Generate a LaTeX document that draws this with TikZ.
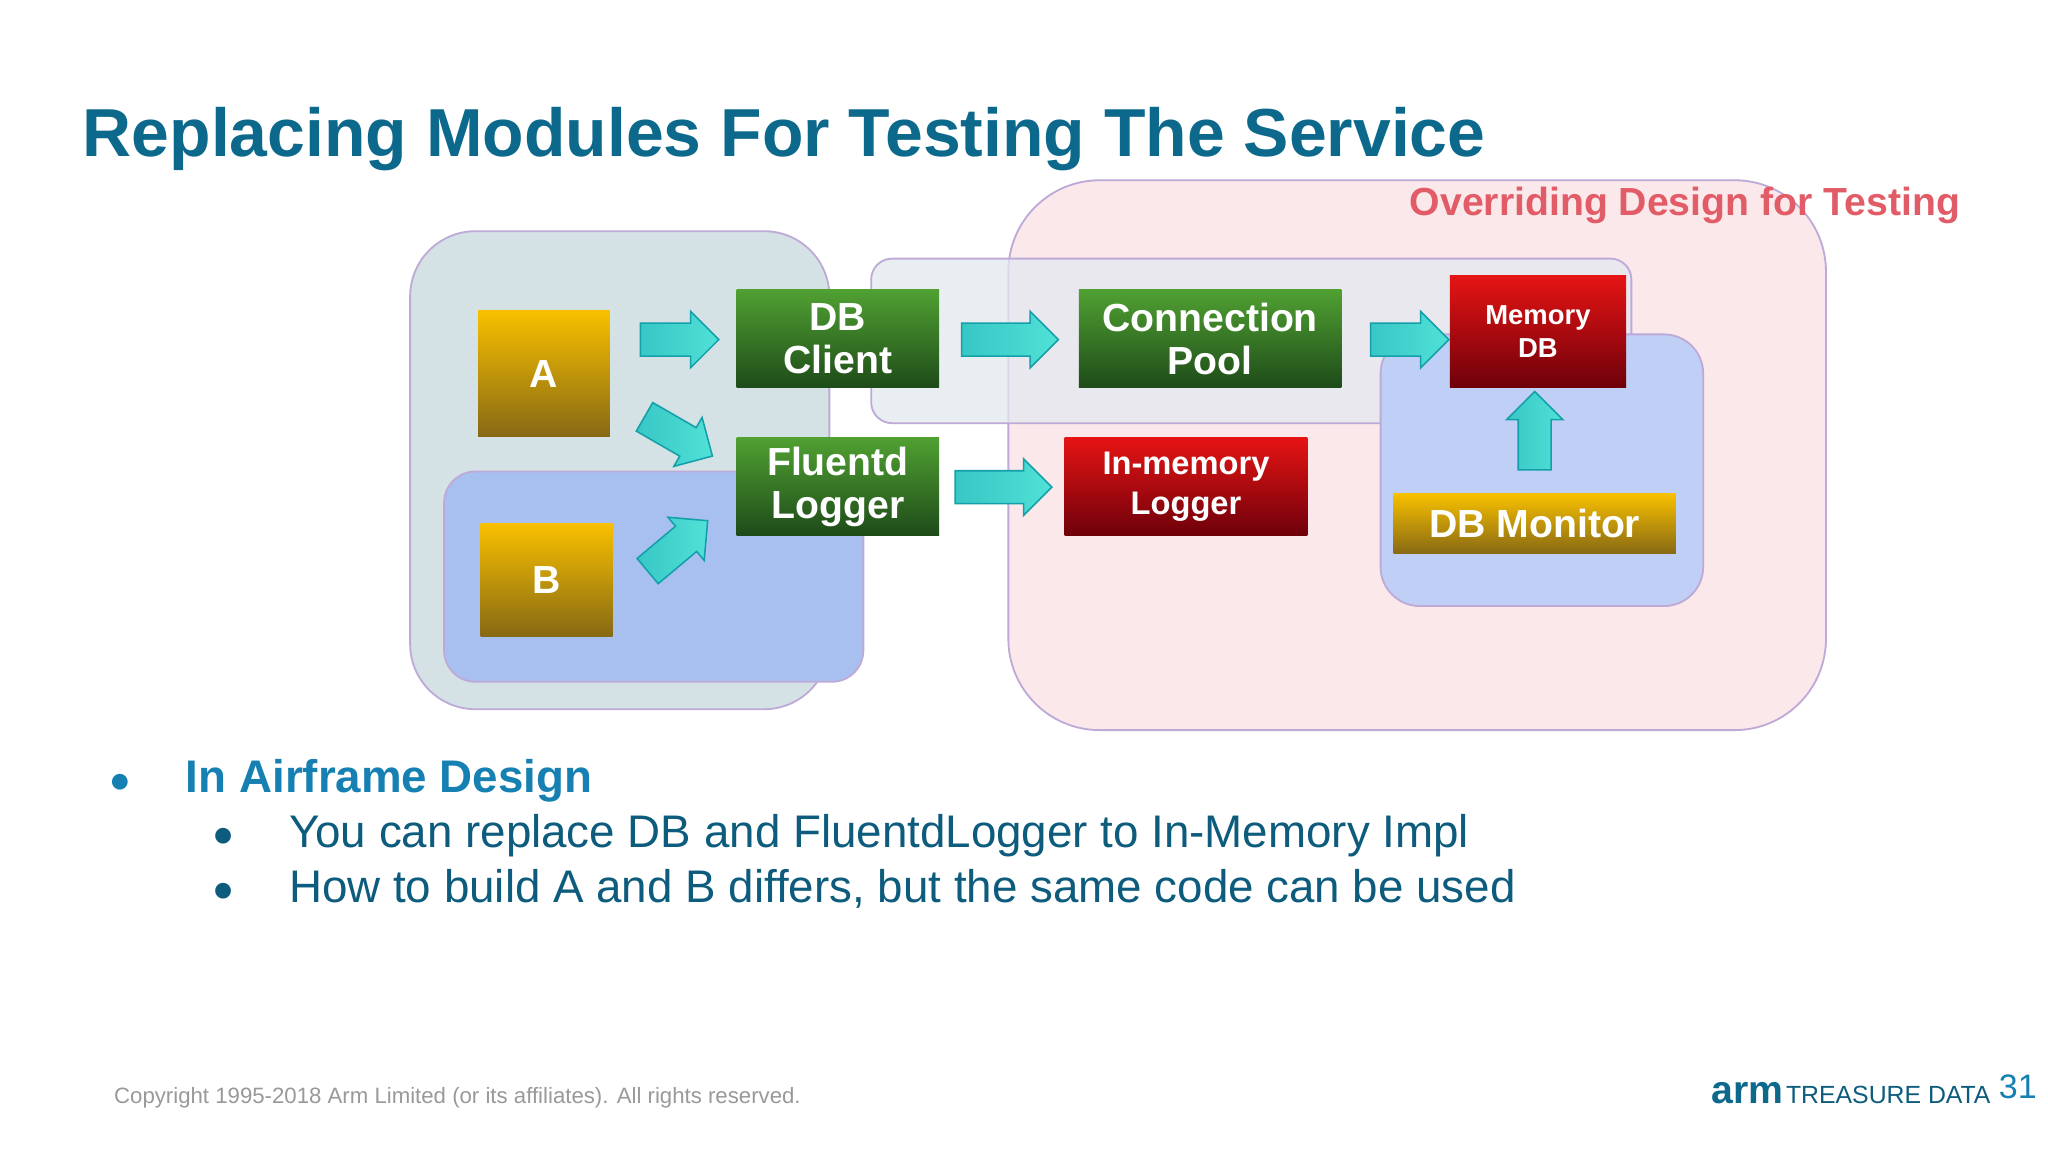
\documentclass[tikz,border=0pt]{standalone}
\usepackage{fontspec}
\setmainfont{Liberation Sans}
\usetikzlibrary{shapes.arrows}
\definecolor{ttl}{RGB}{12,105,140}
\definecolor{sub}{RGB}{14,92,125}
\definecolor{hd}{RGB}{22,128,178}
\definecolor{pinkf}{RGB}{250,232,234}
\definecolor{bord}{RGB}{190,170,215}
\definecolor{greyf}{RGB}{212,226,230}
\definecolor{bluef}{RGB}{168,192,240}
\definecolor{blue2}{RGB}{192,207,245}
\definecolor{band}{RGB}{226,233,240}
\definecolor{ovr}{RGB}{226,92,104}
\definecolor{goldT}{RGB}{248,192,0}
\definecolor{goldB}{RGB}{135,105,20}
\definecolor{grnT}{RGB}{80,160,50}
\definecolor{grnB}{RGB}{30,75,25}
\definecolor{redT}{RGB}{230,20,20}
\definecolor{redB}{RGB}{110,0,10}
\definecolor{cyanA}{RGB}{80,225,215}
\definecolor{cyanB}{RGB}{20,160,170}
\tikzset{
 box/.style={draw=none,text=white,font=\bfseries,align=center,inner sep=0pt},
 gold/.style={box,top color=goldT,bottom color=goldB},
 grn/.style={box,top color=grnT,bottom color=grnB},
 red/.style={box,top color=redT,bottom color=redB},
 barr/.style={single arrow,draw=cyanB,line width=0.6pt,left color=cyanA!60!cyanB,right color=cyanA,minimum height=30pt,minimum width=21pt,single arrow head extend=4.5pt,inner xsep=0pt,inner ysep=6pt,text width=0pt},
 reg/.style={draw=bord,line width=0.7pt},
}
\begin{document}
\begin{tikzpicture}[x=0.5pt,y=-0.5pt]
\useasboundingbox[fill=white] (0,0) rectangle (1568,882);
% title
\node[anchor=base west,text=ttl,font=\bfseries\fontsize{26}{30}\selectfont,inner sep=0] (title) at (63,120) {Replacing Modules For Testing The Service};
% regions
\draw[reg,fill=pinkf,rounded corners=35pt] (772,138) rectangle (1398,559);
\draw[reg,fill=greyf,rounded corners=25pt] (314,177) rectangle (635,543);
\draw[reg,fill=bluef,rounded corners=12pt] (340,361) rectangle (661,522);
\draw[reg,fill=band,fill opacity=0.75,rounded corners=8pt] (667,198) rectangle (1249,324);
\draw[reg,fill=blue2,rounded corners=15pt] (1057,256) rectangle (1304,464);
\node[anchor=east,text=ovr,font=\bfseries\fontsize{15}{18}\selectfont,inner sep=0] (ovr) at (1501,157) {Overriding Design for Testing};
% boxes
\node[gold,minimum width=50.5pt,minimum height=48pt,font=\bfseries\fontsize{15}{18}\selectfont] (A) at (416.5,286) {A};
\node[gold,minimum width=50.5pt,minimum height=43pt,font=\bfseries\fontsize{15}{18}\selectfont] (B) at (418.5,444) {B};
\node[grn,minimum width=77.5pt,minimum height=37.5pt,font=\bfseries\fontsize{15}{16.5}\selectfont] (dbc) at (641.5,259.5) {DB\\Client};
\node[grn,minimum width=100.5pt,minimum height=37.5pt,font=\bfseries\fontsize{15}{16.5}\selectfont] (pool) at (926.5,259.5) {Connection\\Pool};
\node[grn,minimum width=77.5pt,minimum height=37.5pt,font=\bfseries\fontsize{15}{16.5}\selectfont] (flu) at (641.5,372.5) {Fluentd\\Logger};
\node[red,minimum width=93pt,minimum height=37.5pt,font=\bfseries\fontsize{12.5}{15.5}\selectfont] (iml) at (908,372.5) {In-memory\\Logger};
\node[red,minimum width=67.5pt,minimum height=43pt,font=\bfseries\fontsize{10.5}{12.5}\selectfont] (mdb) at (1177.5,254) {Memory\\DB};
\node[gold,minimum width=108pt,minimum height=23pt,font=\bfseries\fontsize{15}{18}\selectfont] (mon) at (1175,401) {DB Monitor};
% arrows
\node[barr] (a1) at (514,260) {};
\node[barr,rotate=-30] (a2) at (514,331) {};
\node[barr,rotate=40] (a3) at (514,422) {};
\node[barr,minimum height=37pt] (a4) at (767,260) {};
\node[barr,minimum height=37pt] (a5) at (762,373) {};
\node[barr] (a6) at (1073,260) {};
\node[barr,rotate=90] (a7) at (1175,336) {};
% bullets
\node[anchor=base west,text=hd,font=\fontsize{14}{16}\selectfont,inner sep=0] (b0) at (83,607) {●};
\node[anchor=base west,text=hd,font=\bfseries\fontsize{17.5}{20}\selectfont,inner sep=0] (h) at (142,607) {In Airframe Design};
\node[anchor=base west,text=sub,font=\fontsize{14}{16}\selectfont,inner sep=0] (b1) at (162,648) {●};
\node[anchor=base west,text=sub,font=\fontsize{17.5}{20}\selectfont,inner sep=0] (t1) at (221,649) {You can replace DB and FluentdLogger to In-Memory Impl};
\node[anchor=base west,text=sub,font=\fontsize{14}{16}\selectfont,inner sep=0] (b2) at (162,690) {●};
\node[anchor=base west,text=sub,font=\fontsize{17.5}{20}\selectfont,inner sep=0] (t2) at (221,691) {How to build A and B differs, but the same code can be used};
% footer
\node[anchor=base west,text=gray!80,font=\fontsize{8.5}{10}\selectfont,inner sep=0] (copy) at (87,845) {Copyright 1995-2018 Arm Limited (or its affiliates). All rights reserved.};
\node[anchor=base west,text=ttl,font=\bfseries\fontsize{15}{18}\selectfont,inner sep=0] (arm) at (1310,845) {arm};
\node[anchor=base west,text=sub,font=\fontsize{9.5}{12}\selectfont,inner sep=0] (td) at (1367,845) {TREASURE DATA};
\node[anchor=base west,text=hd,font=\fontsize{13}{15}\selectfont,inner sep=0] (pg) at (1530,841) {31};
\end{tikzpicture}
\end{document}
